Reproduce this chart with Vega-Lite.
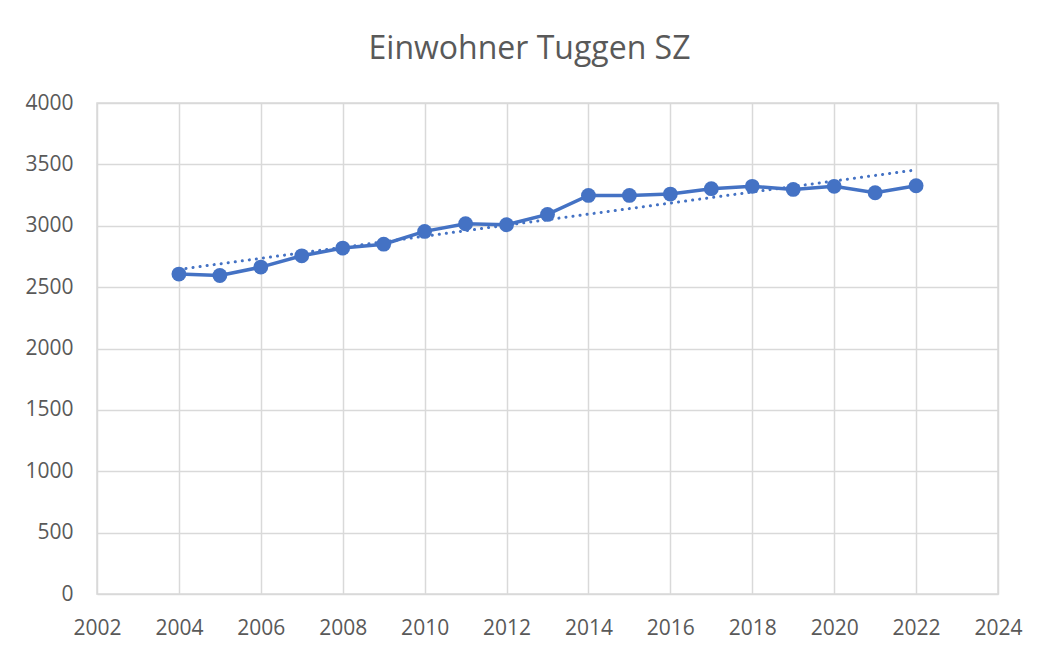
{
  "$schema": "https://vega.github.io/schema/vega-lite/v6.json",
  "autosize": {"type": "none"},
  "width": 901,
  "height": 491,
  "padding": {"left": 97, "top": 103, "right": 43, "bottom": 60},
  "background": "white",
  "title": {
    "text": "Einwohner Tuggen SZ",
    "font": "Open Sans",
    "fontSize": 32,
    "fontWeight": "normal",
    "color": "#595959",
    "anchor": "middle",
    "dx": -18,
    "offset": 26
  },
  "config": {
    "view": {"stroke": "#d9d9d9", "strokeWidth": 1.5},
    "axis": {
      "labelFont": "Open Sans",
      "labelFontSize": 21,
      "labelColor": "#595959",
      "gridColor": "#d9d9d9",
      "gridWidth": 1.5,
      "ticks": false,
      "domain": false,
      "title": null,
      "labelFlush": false,
      "labelOverlap": false
    }
  },
  "data": {
    "values": [
      {"year": 2004, "population": 2606},
      {"year": 2005, "population": 2595},
      {"year": 2006, "population": 2663},
      {"year": 2007, "population": 2755},
      {"year": 2008, "population": 2818},
      {"year": 2009, "population": 2850},
      {"year": 2010, "population": 2954},
      {"year": 2011, "population": 3016},
      {"year": 2012, "population": 3008},
      {"year": 2013, "population": 3092},
      {"year": 2014, "population": 3247},
      {"year": 2015, "population": 3247},
      {"year": 2016, "population": 3258},
      {"year": 2017, "population": 3302},
      {"year": 2018, "population": 3321},
      {"year": 2019, "population": 3296},
      {"year": 2020, "population": 3321},
      {"year": 2021, "population": 3269},
      {"year": 2022, "population": 3326}
    ]
  },
  "encoding": {
    "x": {
      "field": "year",
      "type": "quantitative",
      "scale": {"domain": [2002, 2024], "nice": false, "zero": false},
      "axis": {
        "values": [2002, 2004, 2006, 2008, 2010, 2012, 2014, 2016, 2018, 2020, 2022, 2024],
        "format": "d",
        "labelPadding": 23
      }
    },
    "y": {
      "field": "population",
      "type": "quantitative",
      "scale": {"domain": [0, 4000], "nice": false},
      "axis": {
        "values": [0, 500, 1000, 1500, 2000, 2500, 3000, 3500, 4000],
        "format": "d",
        "labelPadding": 24
      }
    }
  },
  "layer": [
    {
      "transform": [
        {"regression": "population", "on": "year", "extent": [2004, 2022]}
      ],
      "mark": {
        "type": "line",
        "color": "#4472C4",
        "strokeWidth": 3,
        "strokeDash": [0.1, 7],
        "strokeCap": "round"
      }
    },
    {
      "mark": {
        "type": "line",
        "color": "#4472C4",
        "strokeWidth": 3.5,
        "point": {"filled": true, "size": 220, "color": "#4472C4", "opacity": 1}
      }
    }
  ]
}
